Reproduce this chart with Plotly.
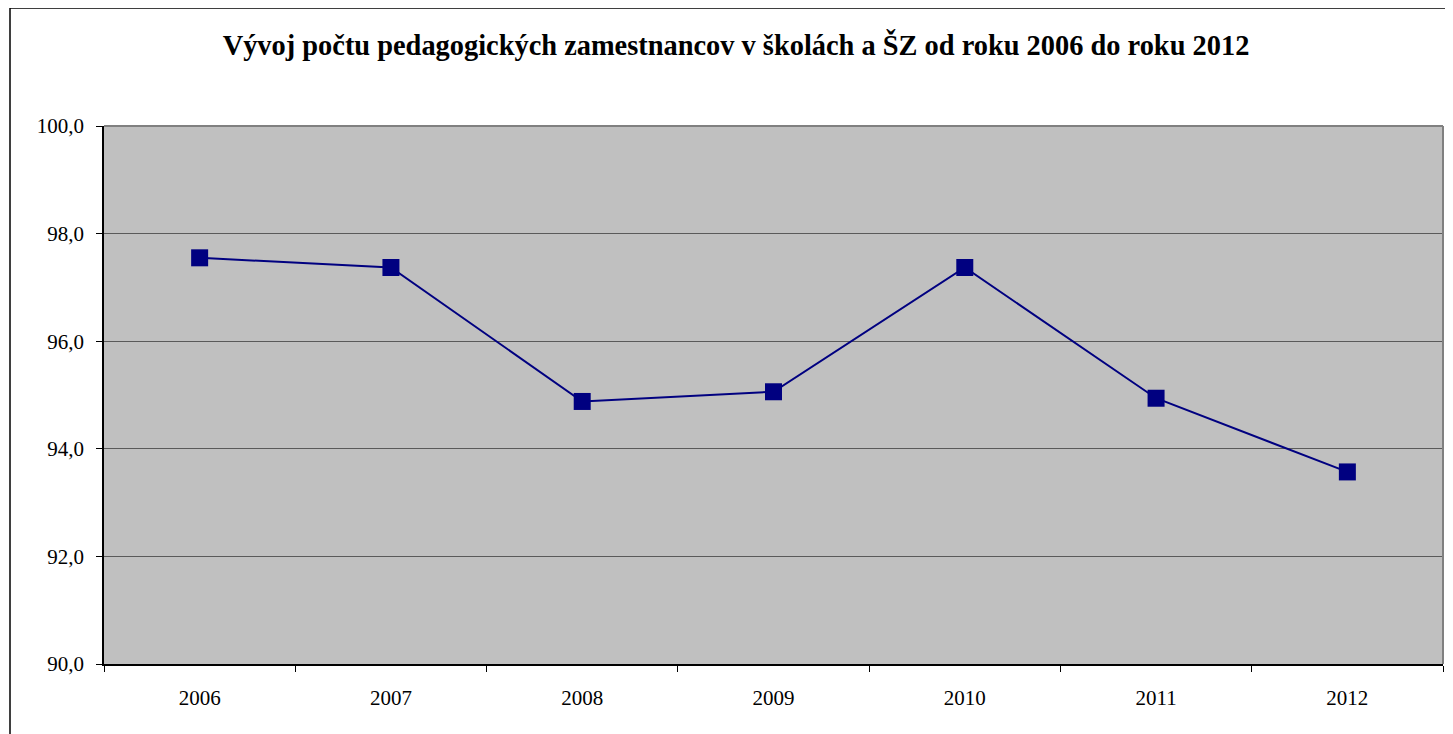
import plotly.graph_objects as go

years = ["2006", "2007", "2008", "2009", "2010", "2011", "2012"]
values = [97.55, 97.37, 94.88, 95.06, 97.37, 94.94, 93.57]
y_ticks = [90, 92, 94, 96, 98, 100]
title = "Vývoj počtu pedagogických zamestnancov v školách a ŠZ od roku 2006 do roku 2012"

FONT = "Liberation Serif, Times New Roman, serif"

fig = go.Figure()
fig.add_trace(go.Scatter(
    x=years, y=values, mode="lines+markers",
    line=dict(color="#000080", width=2),
    marker=dict(symbol="square", size=17, color="#000080"),
    showlegend=False, cliponaxis=False,
))

# page body has an 8px margin, so the figure is offset by (8, 8)
OFF = 8
W, H = 1453 - OFF, 734 - OFF
ml, mt = 104 - OFF, 126 - OFF
plot_right, plot_bottom = 1443 - OFF, 664 - OFF
mr, mb = W - plot_right, H - plot_bottom
pw, ph = plot_right - ml, plot_bottom - mt

fig.update_layout(
    width=W, height=H,
    margin=dict(l=ml, r=mr, t=mt, b=mb, pad=0),
    paper_bgcolor="white", plot_bgcolor="#C0C0C0",
    font=dict(family=FONT, color="black", size=21),
    title=dict(text="<b>" + title + "</b>", x=728 / W, xanchor="center", y=1 - 37 / H, yanchor="middle",
               font=dict(size=28.4, family=FONT, color="black")),
    xaxis=dict(type="category", tickson="boundaries", ticks="outside", ticklen=6, tickcolor="black",
               showline=True, linecolor="black", linewidth=1.5, showgrid=False, zeroline=False,
               range=[-0.5, 6.5], tickfont=dict(size=21), ticklabelstandoff=14),
    yaxis=dict(range=[90, 100], tickvals=y_ticks, tickformat=".1f", ticks="outside", ticklen=6,
               tickcolor="black", showline=True, linecolor="black", linewidth=1.5,
               showgrid=True, gridcolor="#5a5a5a", gridwidth=1.2, zeroline=False,
               tickfont=dict(size=21), ticklabelstandoff=8),
    separators=",.",
    shapes=[
        dict(type="line", xref="paper", yref="paper", x0=0, x1=1, y0=1, y1=1,
             line=dict(color="#808080", width=2)),
        dict(type="line", xref="paper", yref="paper", x0=1, x1=1, y0=0, y1=1,
             line=dict(color="#808080", width=2)),
        dict(type="rect", xref="paper", yref="paper",
             x0=(10 - OFF - ml) / pw, x1=(W + 20 - ml) / pw,
             y0=-(H + 20 - plot_bottom) / ph, y1=(plot_bottom - (8 - OFF)) / ph,
             line=dict(color="black", width=1.5), fillcolor="rgba(0,0,0,0)", layer="above"),
    ],
)

fig.write_html("out.html")
